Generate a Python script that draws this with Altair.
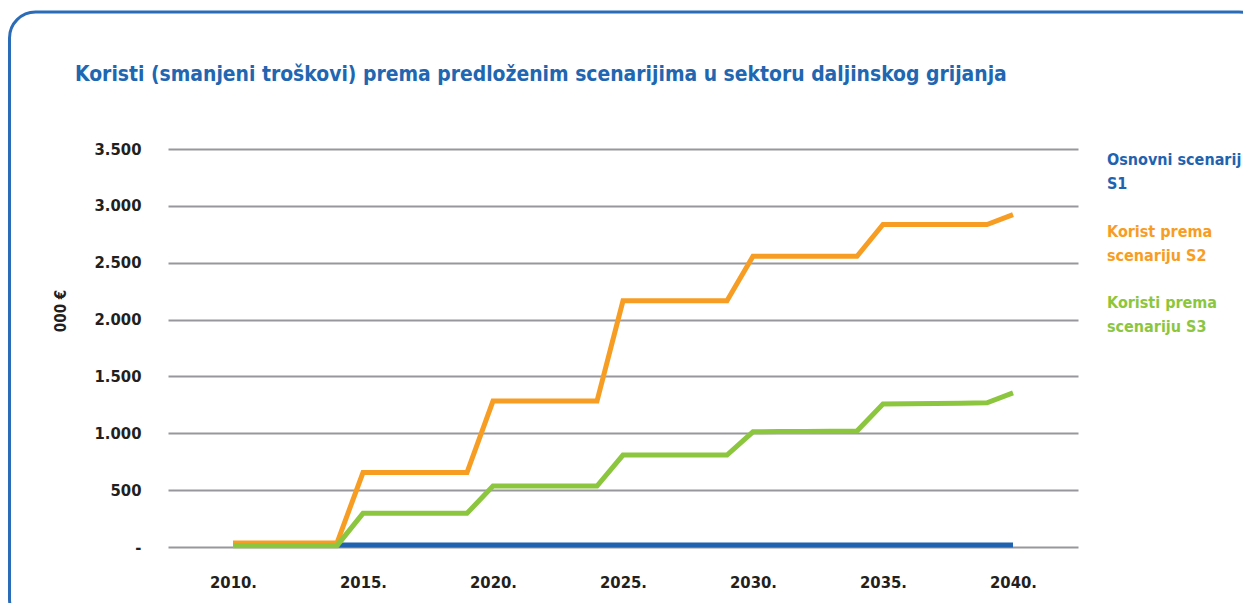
import altair as alt
import pandas as pd

# ---------------- data ----------------
years = list(range(2010, 2041))
s1_values = [18] * 31
s2_values = ([35] * 5 + [655] * 5 + [1283] * 5 + [2165] * 5 + [2557] * 5
             + [2836] * 5 + [2923])
s3_values = ([12] * 5 + [296] * 5 + [536] * 5 + [808] * 5
             + [1013, 1015, 1016, 1018, 1020]
             + [1257, 1260, 1262, 1265, 1268] + [1356])
series_names = ["Osnovni scenarij S1", "Korist prema scenariju S2", "Koristi prema scenariju S3"]
legend_lines = [["Osnovni scenarij", "S1"], ["Korist prema", "scenariju S2"], ["Koristi prema", "scenariju S3"]]
y_ticks = [0, 500, 1000, 1500, 2000, 2500, 3000, 3500]
x_ticks = [2010, 2015, 2020, 2025, 2030, 2035, 2040]
title_text = "Koristi (smanjeni troškovi) prema predloženim scenarijima u sektoru daljinskog grijanja"
y_title = "000 €"

colors = ["#1f63b0", "#f79d23", "#8cc63f"]
TITLE_BLUE = "#2166b1"
FONT = "Liberation Sans Narrow, Arial Narrow, DejaVu Sans Condensed, sans-serif"

W, H = 910, 398

df = pd.DataFrame({
    "year": years * 3,
    "value": s1_values + s2_values + s3_values,
    "series": [series_names[0]] * 31 + [series_names[1]] * 31 + [series_names[2]] * 31,
})

xscale = alt.Scale(domain=[2007.5, 2042.5], nice=False, zero=False)
yscale = alt.Scale(domain=[0, 3500], nice=False)

x_axis = alt.Axis(values=x_ticks, labelExpr="datum.value + '.'", grid=False, domain=False,
                  ticks=False, labelPadding=27, labelFont=FONT, labelFontSize=16.5,
                  labelFontWeight="bold", labelColor="#231f20", title=None)
y_axis = alt.Axis(values=y_ticks,
                  labelExpr="datum.value == 0 ? '-' : replace(format(datum.value, ','), ',', '.')",
                  grid=True, gridColor="#98989c", gridWidth=2, domain=False, ticks=False,
                  labelPadding=27, labelFont=FONT, labelFontSize=16.5, labelFontWeight="bold",
                  labelColor="#231f20", title=None)

base = alt.Chart(df)

grid = base.mark_point(opacity=0).encode(
    x=alt.X("year:Q", scale=xscale, axis=x_axis),
    y=alt.Y("value:Q", scale=yscale, axis=y_axis),
)

lines = []
for name, col in zip(series_names, colors):
    lines.append(
        base.transform_filter(alt.datum.series == name)
        .mark_line(color=col, strokeWidth=5, strokeJoin="miter", strokeCap="butt")
        .encode(x=alt.X("year:Q", scale=xscale), y=alt.Y("value:Q", scale=yscale))
    )

anno = alt.Chart(pd.DataFrame({"a": [0]}))

border = anno.mark_rect(filled=False, stroke="#2a6cb8", strokeWidth=3, cornerRadius=26).encode(
    x=alt.value(-158.5), x2=alt.value(1097), y=alt.value(-137), y2=alt.value(476)
)

title = anno.mark_text(text=title_text, font=FONT, fontSize=20.9, fontWeight="bold",
                       color=TITLE_BLUE, align="left", baseline="alphabetic").encode(
    x=alt.value(-93), y=alt.value(-68)
)

ytitle = anno.mark_text(text=y_title, font=FONT, fontSize=15, fontWeight="bold",
                        color="#231f20", align="center", baseline="middle", angle=270).encode(
    x=alt.value(-107), y=alt.value(162)
)

legend_layers = []
legend_y = [16, 88, 159]
for lines_txt, col, yy in zip(legend_lines, colors, legend_y):
    legend_layers.append(
        anno.mark_text(text=lines_txt, font=FONT, fontSize=16, fontWeight="bold", color=col,
                       align="left", baseline="alphabetic", lineHeight=24).encode(
            x=alt.value(939), y=alt.value(yy)
        )
    )

chart = alt.layer(border, grid, *lines, title, ytitle, *legend_layers).properties(
    width=W, height=H,
    autosize=alt.AutoSizeParams(type="none"),
    padding={"left": 160, "top": 141, "right": 165, "bottom": 56},
).configure_view(stroke=None)

chart.save("out.html", embed_options={"renderer": "svg", "actions": False})
